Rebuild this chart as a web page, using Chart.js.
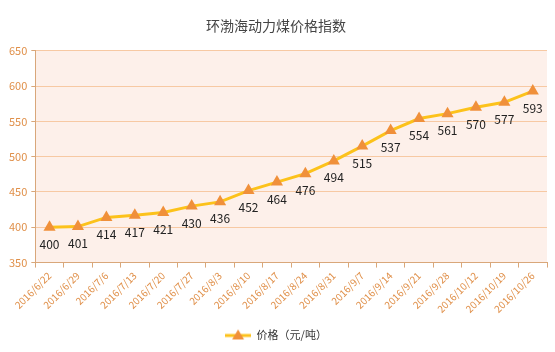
<!DOCTYPE html>
<html>
<head>
<meta charset="utf-8">
<script src="https://cdn.jsdelivr.net/npm/chart.js@4"></script>
<style>
  html, body { margin: 0; padding: 0; background: #fff; }
  #wrap { width: 555px; height: 352px; }
</style>
</head>
<body>
<div id="wrap"><canvas id="myChart" width="555" height="352"></canvas></div>
<script>
const dates = ["2016/6/22", "2016/6/29", "2016/7/6", "2016/7/13", "2016/7/20", "2016/7/27",
  "2016/8/3", "2016/8/10", "2016/8/17", "2016/8/24", "2016/8/31", "2016/9/7",
  "2016/9/14", "2016/9/21", "2016/9/28", "2016/10/12", "2016/10/19", "2016/10/26"];
const prices = [400, 401, 414, 417, 421, 430, 436, 452, 464, 476, 494, 515, 537, 554, 561, 570, 577, 593];
const yTicks = [350, 400, 450, 500, 550, 600, 650];

const orange = "#e0904a";
const lineColor = "#fcc21b";
const markColor = "#f0903a";
const font = "'Noto Sans CJK SC', 'Open Sans', sans-serif";

// legend symbol: line with a triangle
const sym = document.createElement("canvas");
sym.width = 26;
sym.height = 12;
const sc = sym.getContext("2d");
sc.strokeStyle = lineColor;
sc.lineWidth = 3;
sc.beginPath();
sc.moveTo(0, 7);
sc.lineTo(26, 7);
sc.stroke();
sc.fillStyle = markColor;
sc.beginPath();
sc.moveTo(13, 1);
sc.lineTo(19, 11);
sc.lineTo(7, 11);
sc.closePath();
sc.fill();

const plotBg = {
  id: "plotBg",
  beforeDraw(chart) {
    const { ctx, chartArea: a } = chart;
    ctx.save();
    ctx.fillStyle = "#fdf0ea";
    ctx.fillRect(a.left, a.top, a.right - a.left, a.bottom - a.top);
    ctx.restore();
  }
};

const valueLabels = {
  id: "valueLabels",
  afterDatasetsDraw(chart) {
    const ctx = chart.ctx;
    const meta = chart.getDatasetMeta(0);
    ctx.save();
    ctx.font = "12px " + font;
    ctx.fillStyle = "#222";
    ctx.textAlign = "center";
    ctx.textBaseline = "middle";
    meta.data.forEach((pt, i) => {
      ctx.fillText(String(prices[i]), pt.x, pt.y + 17);
    });
    ctx.restore();
  }
};

const ctx = document.getElementById("myChart").getContext("2d");
const myChart = new Chart(ctx, {
  type: "line",
  data: {
    labels: dates,
    datasets: [
      {
        label: "价格（元/吨）",
        data: prices,
        borderColor: lineColor,
        backgroundColor: markColor,
        borderWidth: 3,
        pointStyle: "triangle",
        pointRadius: 7,
        pointHoverRadius: 7,
        pointBackgroundColor: markColor,
        pointBorderColor: markColor,
        pointBorderWidth: 0,
        fill: false,
        tension: 0
      }
    ]
  },
  options: {
    responsive: false,
    animation: false,
    devicePixelRatio: 1,
    layout: { padding: { left: 5, right: 8, top: 0, bottom: 2 } },
    plugins: {
      title: {
        display: true,
        text: "环渤海动力煤价格指数",
        color: "#444",
        font: { family: font, size: 14, weight: "normal" },
        padding: { top: 17, bottom: 17 }
      },
      legend: {
        position: "bottom",
        labels: {
          usePointStyle: true,
          pointStyle: sym,
          pointStyleWidth: 26,
          color: "#333",
          font: { family: font, size: 11 },
          padding: 12,
          generateLabels(chart) {
            return [{
              text: "价格（元/吨）",
              pointStyle: sym,
              fillStyle: markColor,
              strokeStyle: markColor,
              lineWidth: 0,
              datasetIndex: 0,
              fontColor: "#333"
            }];
          }
        }
      },
      tooltip: { enabled: false }
    },
    scales: {
      x: {
        offset: true,
        grid: {
          offset: true,
          drawOnChartArea: false,
          drawTicks: true,
          tickLength: 5,
          color: "#d9a77a"
        },
        border: { color: "#d9a77a" },
        ticks: {
          color: orange,
          font: { family: font, size: 10 },
          maxRotation: 45,
          minRotation: 45,
          autoSkip: false,
          padding: 2
        }
      },
      y: {
        min: 350,
        max: 650,
        afterBuildTicks(axis) {
          axis.ticks = yTicks.map(v => ({ value: v }));
        },
        grid: {
          color: (c) => (c.tick && c.tick.value === 350 ? "rgba(0,0,0,0)" : "#f7c9a3"),
          tickLength: 4,
          drawTicks: true,
          tickColor: "#d9a77a"
        },
        border: { color: "#d9a77a" },
        ticks: {
          color: orange,
          font: { family: font, size: 11 },
          padding: 4
        }
      }
    }
  },
  plugins: [plotBg, valueLabels]
});
</script>
</body>
</html>
